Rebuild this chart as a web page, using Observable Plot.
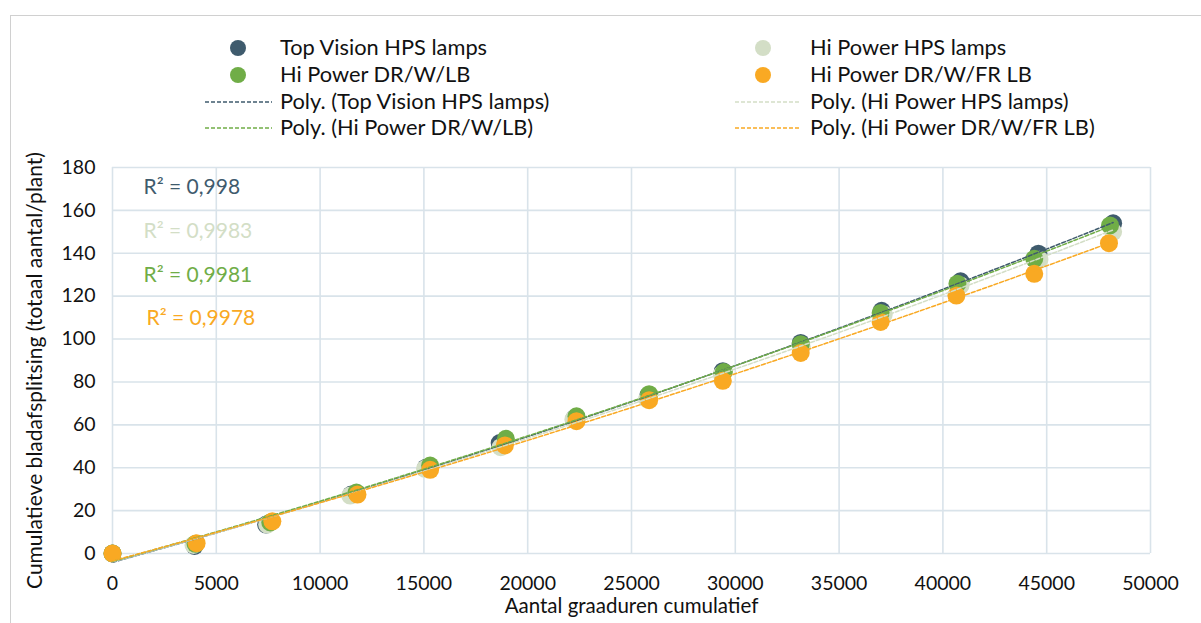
<!DOCTYPE html>
<html>
<head>
<meta charset="utf-8">
<script src="https://cdn.jsdelivr.net/npm/d3@7"></script>
<script src="https://cdn.jsdelivr.net/npm/@observablehq/plot@0.6"></script>
<style>
  html, body { margin: 0; padding: 0; background: #fff; }
  body { width: 1201px; height: 623px; overflow: hidden; position: relative; font-family: Lato, "Noto Sans", sans-serif; }
  #frame { position: absolute; left: 10px; top: 15px; width: 1200px; height: 700px; border: 1px solid #d0d0d0; box-sizing: border-box; }
  #chart { position: absolute; left: 0; top: 0; }
  .lg { position: absolute; font-size: 21.8px; color: #111; white-space: nowrap; line-height: 1; }
</style>
</head>
<body>
<div id="frame"></div>
<div id="chart"></div>
<div id="legend"></div>
<script>
// ---- data ----
const seriesNames = ["Top Vision HPS lamps", "Hi Power HPS lamps", "Hi Power DR/W/LB", "Hi Power DR/W/FR LB"];
const seriesColors = ["#3f5b6d", "#d3dec6", "#70ad47", "#f9a923"];
const r2Labels = ["R² = 0,998", "R² = 0,9983", "R² = 0,9981", "R² = 0,9978"];

const xTopVision = [0, 3950, 7400, 11500, 15100, 18650, 22250, 25800, 29400, 33150, 37050, 40850, 44600, 48200];
const yTopVision = [0, 3.5, 13.5, 27.5, 40, 51.5, 63, 73.5, 85, 98.2, 113.2, 126.9, 139.8, 154];

const xHiPowerHPS = [0, 3900, 7450, 11450, 15050, 18700, 22200, 25750, 29350, 33200, 37150, 40850, 44650, 48200];
const yHiPowerHPS = [0, 4, 13.5, 27, 39.5, 49.6, 62.5, 72, 83.5, 96.5, 111.5, 125, 137, 150];

const xHiPowerLB = [0, 4000, 7600, 11750, 15300, 18950, 22350, 25850, 29450, 33150, 37000, 40700, 44400, 48050];
const yHiPowerLB = [0, 4.5, 14.5, 28.4, 41, 53.5, 64, 74.3, 84.6, 97.6, 112.2, 125.8, 137.4, 153];

const xHiPowerFR = [0, 4050, 7700, 11800, 15300, 18900, 22350, 25850, 29400, 33150, 37000, 40650, 44400, 48000];
const yHiPowerFR = [0, 4.8, 15, 27.5, 39, 50.4, 61.7, 71.5, 80.5, 93.5, 108, 120.3, 130.4, 144.7];

const xTicks = [0, 5000, 10000, 15000, 20000, 25000, 30000, 35000, 40000, 45000, 50000];
const yTicks = [0, 20, 40, 60, 80, 100, 120, 140, 160, 180];

const xTitle = "Aantal graaduren cumulatief";
const yTitle = "Cumulatieve bladafsplitsing (totaal aantal/plant)";

// ---- build tables ----
const xs = [xTopVision, xHiPowerHPS, xHiPowerLB, xHiPowerFR];
const ys = [yTopVision, yHiPowerHPS, yHiPowerLB, yHiPowerFR];
const points = [];
seriesNames.forEach((s, i) => xs[i].forEach((x, j) => points.push({series: s, x, y: ys[i][j]})));

// quadratic least-squares fit (Excel "Poly." order 2 trendline)
function polyFit(X, Y) {
  let S = [0,0,0,0,0], T = [0,0,0];
  X.forEach((x, k) => {
    const y = Y[k];
    for (let p = 0; p < 5; p++) S[p] += Math.pow(x, p);
    for (let p = 0; p < 3; p++) T[p] += y * Math.pow(x, p);
  });
  const A = [[S[0],S[1],S[2],T[0]],[S[1],S[2],S[3],T[1]],[S[2],S[3],S[4],T[2]]];
  for (let c = 0; c < 3; c++) {
    for (let r = c + 1; r < 3; r++) {
      const f = A[r][c] / A[c][c];
      for (let k = c; k < 4; k++) A[r][k] -= f * A[c][k];
    }
  }
  const b = [0,0,0];
  for (let r = 2; r >= 0; r--) {
    let s = A[r][3];
    for (let k = r + 1; k < 3; k++) s -= A[r][k] * b[k];
    b[r] = s / A[r][r];
  }
  return x => b[0] + b[1] * x + b[2] * x * x;
}
const trends = [];
seriesNames.forEach((s, i) => {
  const f = polyFit(xs[i], ys[i]);
  const xmax = d3.max(xs[i]);
  d3.range(0, 61).forEach(k => { const x = xmax * k / 60; trends.push({series: s, x, y: f(x)}); });
});

const color = {domain: seriesNames, range: seriesColors};

const marks = [
  Plot.gridX(xTicks, {stroke: "#d9e3ea", strokeOpacity: 1, strokeWidth: 1.6}),
  Plot.gridY(yTicks, {stroke: "#d9e3ea", strokeOpacity: 1, strokeWidth: 1.6}),
  Plot.axisX(xTicks, {label: null, tickSize: 0, tickPadding: 23, fontSize: 19.5, fill: "#111", tickFormat: d => String(d)}),
  Plot.axisY(yTicks, {label: null, tickSize: 0, tickPadding: 17, fontSize: 19.5, fill: "#111", tickFormat: d => String(d)}),
  Plot.dot(points, {x: "x", y: "y", fill: "series", r: 9, stroke: null}),
  Plot.line(trends, {x: "x", y: "y", z: "series", stroke: "series", strokeWidth: 1.5, strokeDasharray: "4,2"}),
  Plot.text([yTitle], {frameAnchor: "left", textAnchor: "middle", dx: -77, dy: 10, rotate: -90, fontSize: 21, fill: "#111", text: d => d}),
  Plot.text([xTitle], {frameAnchor: "bottom", textAnchor: "middle", dy: 59, fontSize: 20.5, fill: "#111", text: d => d})
];
r2Labels.forEach((t, i) => {
  marks.push(Plot.text([t], {frameAnchor: "top-left", textAnchor: "start", lineAnchor: "middle", dx: 31 + (i === 3 ? 3 : 0), dy: 20 + i * 43.7, fontSize: 21, fill: seriesColors[i], text: d => d}));
});

const chart = Plot.plot({
  width: 1201,
  height: 623,
  marginLeft: 112,
  marginRight: 51,
  marginTop: 167,
  marginBottom: 70,
  style: {fontFamily: "Lato, 'Noto Sans', sans-serif", background: "transparent", overflow: "visible"},
  x: {domain: [0, 50000], label: null},
  y: {domain: [0, 180], label: null},
  color,
  marks
});
document.getElementById("chart").appendChild(chart);

// ---- legend ----
const legend = document.getElementById("legend");
const rowsY = [48, 75, 102, 128];
const cols = [{marker: 238, lineL: 205, lineR: 272, text: 280}, {marker: 763, lineL: 735, lineR: 800, text: 810}];
seriesNames.forEach((s, i) => {
  const col = cols[i % 2];
  const rowM = rowsY[Math.floor(i / 2)];
  const rowL = rowsY[2 + Math.floor(i / 2)];
  const m = document.createElement("div");
  m.style.cssText = `position:absolute;left:${col.marker - 8}px;top:${rowM - 8}px;width:16px;height:16px;border-radius:50%;background:${seriesColors[i]}`;
  legend.appendChild(m);
  const t = document.createElement("div");
  t.className = "lg"; t.textContent = s;
  t.style.left = col.text + "px"; t.style.top = (rowM - 12) + "px";
  legend.appendChild(t);
  const l = document.createElementNS("http://www.w3.org/2000/svg", "svg");
  l.setAttribute("width", col.lineR - col.lineL); l.setAttribute("height", 4);
  l.style.cssText = `position:absolute;left:${col.lineL}px;top:${rowL - 2}px`;
  l.innerHTML = `<line x1="0" y1="2" x2="${col.lineR - col.lineL}" y2="2" stroke="${seriesColors[i]}" stroke-width="1.5" stroke-dasharray="4,2"/>`;
  legend.appendChild(l);
  const t2 = document.createElement("div");
  t2.className = "lg"; t2.textContent = "Poly. (" + s + ")";
  t2.style.left = col.text + "px"; t2.style.top = (rowL - 12) + "px";
  legend.appendChild(t2);
});
</script>
</body>
</html>
